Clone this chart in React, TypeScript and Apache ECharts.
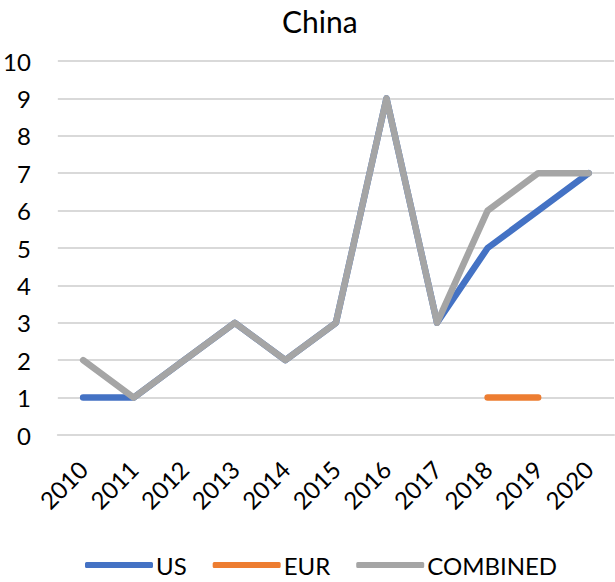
import React, { useEffect, useRef } from "react";
import * as echarts from "echarts";

const categories = ["2010", "2011", "2012", "2013", "2014", "2015", "2016", "2017", "2018", "2019", "2020"];
const usValues = [1, 1, 2, 3, 2, 3, 9, 3, 5, 6, 7];
const eurValues = [null, null, null, null, null, null, null, null, 1, 1, null];
const combinedValues = [2, 1, 2, 3, 2, 3, 9, 3, 6, 7, 7];
const titleText = "China";

const FONT = "Lato, 'Noto Sans', sans-serif";

export default function App() {
  const ref = useRef<HTMLDivElement>(null);
  useEffect(() => {
    if (!ref.current) return;
    const chart = echarts.init(ref.current, undefined, { renderer: "svg" });
    const lineStyle = (color: string) => ({ color, width: 6.5, cap: "round", join: "round" });
    chart.setOption({
      animation: false,
      backgroundColor: "#ffffff",
      title: {
        text: titleText,
        left: 277,
        top: 1,
        textStyle: { fontFamily: FONT, fontSize: 30, fontWeight: "normal", color: "#000" },
      },
      legend: {
        bottom: 0,
        left: 80,
        itemWidth: 68,
        itemHeight: 6,
        itemGap: 26,
        icon: "roundRect",
        textStyle: { fontFamily: FONT, fontSize: 24, color: "#000", padding: [0, 0, 0, -2] },
        data: ["US", "EUR", "COMBINED"],
      },
      grid: { left: 55, right: 1, top: 61, bottom: 147, containLabel: false },
      xAxis: {
        type: "category",
        data: categories,
        boundaryGap: true,
        axisLine: { show: true, lineStyle: { color: "#D9D9D9", width: 2 } },
        axisTick: { show: false },
        axisLabel: {
          rotate: 45,
          margin: 30,
          fontFamily: FONT,
          fontSize: 24,
          color: "#000",
          interval: 0,
        },
      },
      yAxis: {
        type: "value",
        min: 0,
        max: 10,
        interval: 1,
        axisLine: { show: false },
        axisTick: { show: false },
        splitLine: { lineStyle: { color: "#D9D9D9", width: 2 } },
        axisLabel: { margin: 27, fontFamily: FONT, fontSize: 24, color: "#000" },
      },
      series: [
        {
          name: "US",
          type: "line",
          data: usValues,
          showSymbol: false,
          symbol: "none",
          color: "#4472C4",
          lineStyle: lineStyle("#4472C4"),
        },
        {
          name: "EUR",
          type: "line",
          data: eurValues,
          showSymbol: false,
          symbol: "none",
          connectNulls: false,
          color: "#ED7D31",
          lineStyle: lineStyle("#ED7D31"),
        },
        {
          name: "COMBINED",
          type: "line",
          data: combinedValues,
          showSymbol: false,
          symbol: "none",
          color: "#A5A5A5",
          lineStyle: lineStyle("#A5A5A5"),
        },
      ],
    });
    return () => chart.dispose();
  }, []);
  return <div ref={ref} style={{ width: 615, height: 582, position: "absolute", left: 0, top: 0 }} />;
}
